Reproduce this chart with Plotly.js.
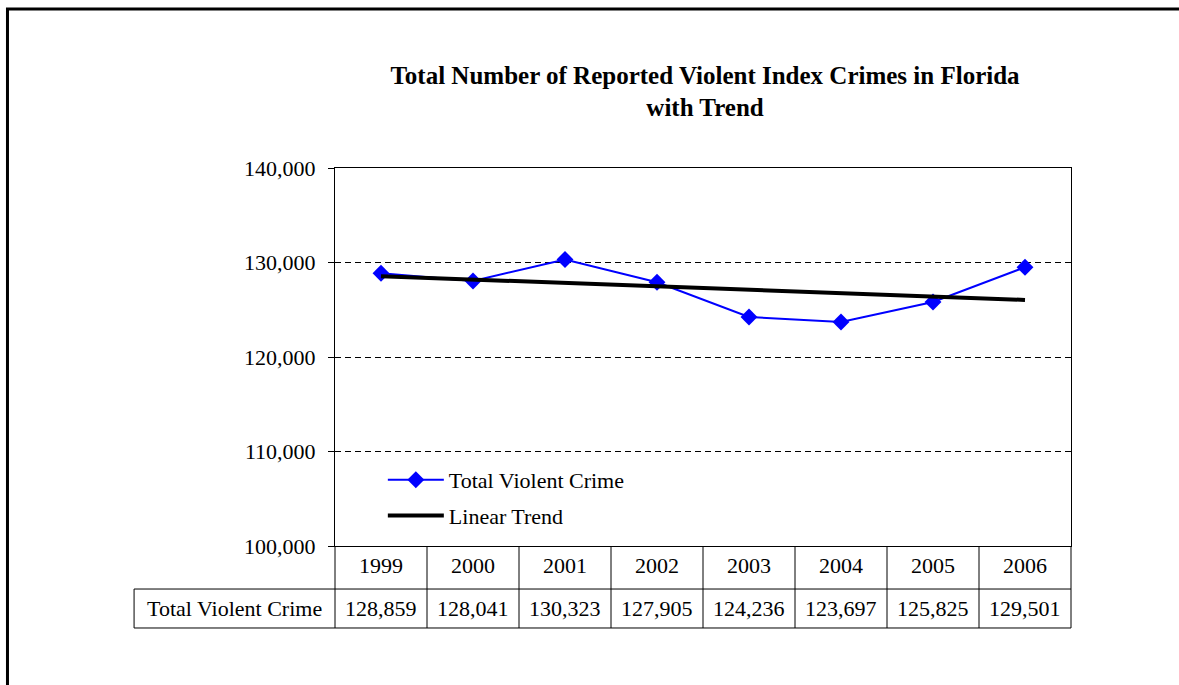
<!DOCTYPE html>
<html>
<head>
<meta charset="utf-8">
<script src="https://cdn.plot.ly/plotly-3.0.1.min.js"></script>
<style>
html,body{margin:0;padding:0;background:#fff;}
#chart{width:1179px;height:685px;}
</style>
</head>
<body>
<div id="chart"></div>
<script>
const years = ['1999','2000','2001','2002','2003','2004','2005','2006'];
const totalViolentCrime = [128859, 128041, 130323, 127905, 124236, 123697, 125825, 129501];
const trendYears = ['1999','2006'];
const trendValues = [128554, 126043];
const seriesName = 'Total Violent Crime';
const trendName = 'Linear Trend';
const yTicks = [100000, 110000, 120000, 130000, 140000];

const serif = '"Liberation Serif", "Times New Roman", serif';

const traces = [
  {
    x: years, y: totalViolentCrime, name: seriesName, type: 'scatter', mode: 'lines+markers',
    line: {color: '#0000ff', width: 2},
    marker: {symbol: 'diamond', size: 13, color: '#0000ff'},
    legendgroup: 'a'
  },
  {
    x: trendYears, y: trendValues, name: trendName, type: 'scatter', mode: 'lines',
    line: {color: '#000000', width: 4},
    legendgroup: 'b'
  }
];

// table geometry in paper coords (plot area is paper 0..1)
const row1Top = 0, row1Bot = -0.1138, row2Bot = -0.2169;
const labelLeft = -0.273;
const n = years.length;
const shapes = [];
// outer frame
shapes.push({type:'rect', xref:'paper', yref:'paper', x0:-0.445, x1:1.4, y0:-0.6, y1:1.4206,
  line:{color:'#000', width:3}});
// vertical lines of the table
for (let i = 0; i <= n; i++) {
  shapes.push({type:'line', xref:'paper', yref:'paper', x0:i/n, x1:i/n, y0:row1Top, y1:row2Bot,
    line:{color:'#000', width:1}});
}
shapes.push({type:'line', xref:'paper', yref:'paper', x0:labelLeft, x1:labelLeft, y0:row1Bot, y1:row2Bot, line:{color:'#000', width:1}});
shapes.push({type:'line', xref:'paper', yref:'paper', x0:labelLeft, x1:1, y0:row1Bot, y1:row1Bot, line:{color:'#000', width:1}});
shapes.push({type:'line', xref:'paper', yref:'paper', x0:labelLeft, x1:1, y0:row2Bot, y1:row2Bot, line:{color:'#000', width:1}});

const tfont = {family: serif, size: 22, color: '#000'};
const annotations = [];
years.forEach((yr, i) => {
  annotations.push({x: i, xref:'x', y:(row1Top+row1Bot)/2 + 0.006, yref:'paper', text: yr, showarrow:false,
    xanchor:'center', yanchor:'middle', font: tfont});
  annotations.push({x: i, xref:'x', y:(row1Bot+row2Bot)/2, yref:'paper',
    text: totalViolentCrime[i].toLocaleString('en-US'), showarrow:false,
    xanchor:'center', yanchor:'middle', font: tfont});
});
annotations.push({x:(labelLeft+0)/2, xref:'paper', y:(row1Bot+row2Bot)/2, yref:'paper', text: seriesName,
  showarrow:false, xanchor:'center', yanchor:'middle', font: tfont});

const layout = {
  width: 1179, height: 685,
  margin: {l: 335, r: 108, t: 168, b: 139},
  paper_bgcolor: '#fff', plot_bgcolor: '#fff',
  title: {
    text: 'Total Number of Reported Violent Index Crimes in Florida<br>with Trend',
    font: {family: serif, size: 25, color: '#000', weight: 'bold'},
    x: 0.598, xanchor: 'center', y: 0.878, yanchor: 'middle'
  },
  showlegend: true,
  legend: {
    x: 0.065, y: 0.127, xanchor: 'left', yanchor: 'middle',
    font: {family: serif, size: 22, color: '#000'},
    bgcolor: 'rgba(0,0,0,0)', traceorder: 'grouped', tracegroupgap: 4, itemwidth: 56
  },
  xaxis: {
    type: 'category', range: [-0.5, 7.5], showticklabels: false, ticks: '',
    showgrid: false, showline: true, linecolor: '#000', linewidth: 1, mirror: true, zeroline: false, fixedrange: true
  },
  yaxis: {
    range: [100000, 140000], tickvals: yTicks, tickformat: ',', ticks: 'outside', ticklen: 6, tickcolor: '#000',
    showgrid: true, gridcolor: '#000', gridwidth: 1, griddash: '6px,4px',
    showline: true, linecolor: '#000', linewidth: 1, mirror: true, zeroline: false,
    tickfont: {family: serif, size: 22, color: '#000'}, ticklabelstandoff: 8, fixedrange: true
  },
  shapes: shapes,
  annotations: annotations
};

Plotly.newPlot('chart', traces, layout, {displayModeBar: false, staticPlot: true});
</script>
</body>
</html>
